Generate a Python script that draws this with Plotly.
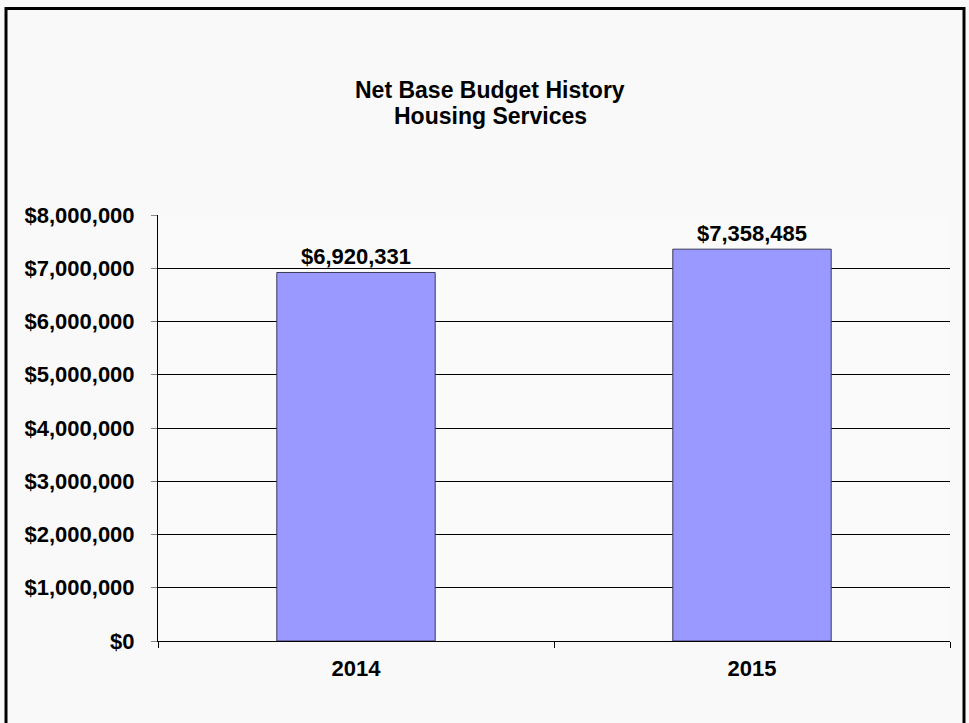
import plotly.graph_objects as go

# Net base budget by fiscal year
years = ["2014", "2015"]
budget = [6920331, 7358485]
y_ticks = [0, 1000000, 2000000, 3000000, 4000000, 5000000, 6000000, 7000000, 8000000]
y_tick_text = ["$" + format(v, ",") for v in y_ticks]
title_lines = ["Net Base Budget History", "Housing Services"]

W, H = 969, 723
L, R, T, B = 158, 19, 215, 82
pw, ph = W - L - R, H - T - B

FONT = "Liberation Sans, Arial, sans-serif"
BOLD = dict(family=FONT, size=22, color="#000", weight="bold")
TITLE_FONT = dict(family=FONT, size=23, color="#000", weight="bold")

fig = go.Figure(
    go.Bar(
        x=years,
        y=budget,
        width=0.4,
        marker=dict(color="#9999FF", line=dict(color="#3a3a5a", width=1)),
        texttemplate="$%{y:,.0f}",
        textposition="outside",
        textfont=BOLD,
        cliponaxis=False,
        hoverinfo="skip",
    )
)

fig.update_layout(
    width=W,
    height=H,
    margin=dict(l=L, r=R, t=T, b=B, pad=0),
    paper_bgcolor="#f9f9f9",
    plot_bgcolor="#fafafa",
    showlegend=False,
    xaxis=dict(
        type="category",
        tickson="boundaries",
        ticks="outside",
        ticklen=6,
        tickcolor="#000",
        showline=True,
        linecolor="#000",
        linewidth=1,
        showgrid=False,
        ticklabelstandoff=8,
        tickfont=BOLD,
    ),
    yaxis=dict(
        range=[0, 8000000],
        tickvals=y_ticks,
        ticktext=y_tick_text,
        ticks="outside",
        ticklen=6,
        tickcolor="#888",
        showline=True,
        linecolor="#000",
        linewidth=1,
        showgrid=True,
        gridcolor="#000",
        gridwidth=1,
        zeroline=False,
        ticklabelstandoff=12,
        tickfont=BOLD,
    ),
)

# Two-line chart title
for line, y_px in zip(title_lines, [90, 116]):
    fig.add_annotation(
        text=line,
        xref="paper",
        yref="paper",
        x=(490 - L) / pw,
        y=(H - B - y_px) / ph,
        xanchor="center",
        yanchor="middle",
        showarrow=False,
        font=TITLE_FONT,
    )

# Frame around the whole chart (open at the bottom edge of the page)
fig.add_shape(
    type="rect",
    xref="paper",
    yref="paper",
    x0=(6 - L) / pw,
    x1=(964 - L) / pw,
    y0=(H - B - 740) / ph,
    y1=(H - B - 8.5) / ph,
    line=dict(color="#000", width=3),
    fillcolor="rgba(0,0,0,0)",
    layer="above",
)

fig.write_html("out.html")
